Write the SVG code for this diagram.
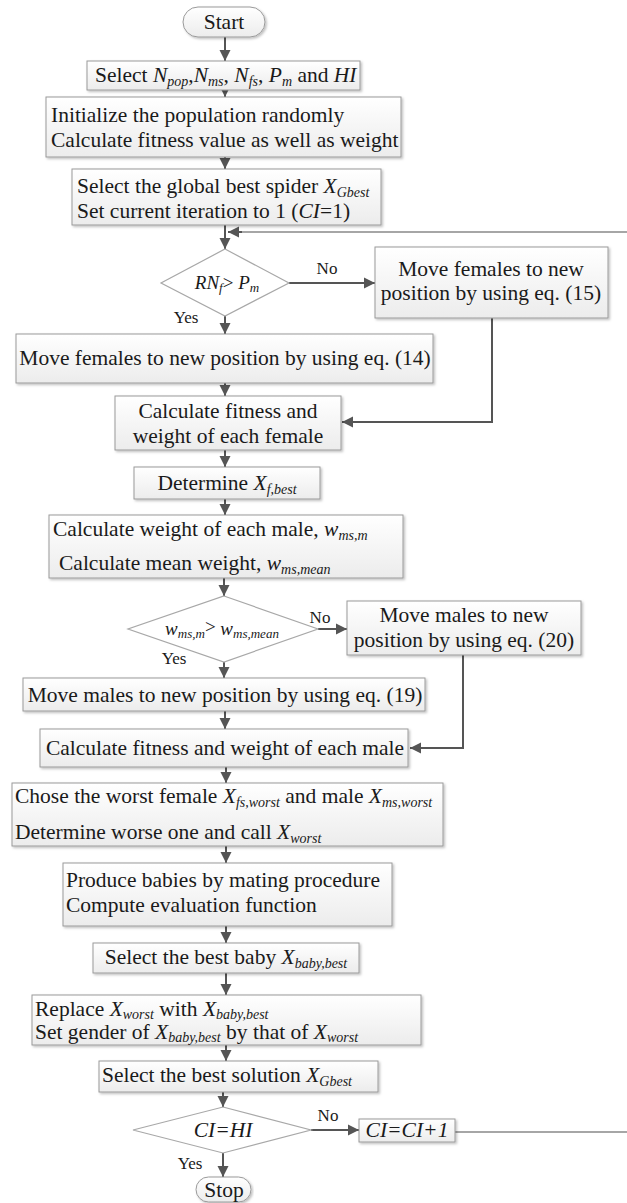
<svg xmlns="http://www.w3.org/2000/svg" width="627" height="1203" viewBox="0 0 627 1203" font-family="'Liberation Serif', 'Times New Roman', 'DejaVu Serif', serif">
<defs>
<linearGradient id="g" x1="0" y1="0" x2="0" y2="1"><stop offset="0" stop-color="#ffffff"/><stop offset="1" stop-color="#ececec"/></linearGradient>
<filter id="sh" x="-5%" y="-10%" width="110%" height="130%"><feDropShadow dx="1.5" dy="1.5" stdDeviation="1" flood-color="#000" flood-opacity="0.25"/></filter>
<marker id="ah" markerUnits="userSpaceOnUse" markerWidth="12" markerHeight="12" refX="11" refY="6" orient="auto"><path d="M0,0.5 L11,6 L0,11.5 z" fill="#555"/></marker>
<style>
.b{fill:url(#g);stroke:#9a9a9a;stroke-width:1;filter:url(#sh)}
.d{fill:#fff;stroke:#a8a8a8;stroke-width:1.2}
text{font-size:21.5px;fill:#1a1a1a}
.c{text-anchor:middle}
.i{font-style:italic}
.s{font-size:14px;font-style:italic}
.dt{font-size:19px}
.ds{font-size:13px;font-style:italic}
.l{font-size:17px}
.cn{fill:none;stroke:#555;stroke-width:2}
.cl{fill:none;stroke:#888;stroke-width:1.3}
</style>
</defs>
<g id="connectors">
<line class="cn" x1="225" y1="37" x2="225" y2="61" marker-end="url(#ah)"/>
<line class="cn" x1="225" y1="90" x2="225" y2="97" marker-end="url(#ah)"/>
<line class="cn" x1="225" y1="157" x2="225" y2="169" marker-end="url(#ah)"/>
<line class="cn" x1="225" y1="225" x2="225" y2="249" marker-end="url(#ah)"/>
<line class="cl" x1="627" y1="232" x2="240" y2="232"/>
<line class="cn" x1="242" y1="232" x2="228" y2="232" marker-end="url(#ah)"/>
<line class="cn" x1="289" y1="283" x2="375" y2="283" marker-end="url(#ah)"/>
<line class="cn" x1="225" y1="316" x2="225" y2="334" marker-end="url(#ah)"/>
<polyline class="cn" points="492,318 492,422 342,422" marker-end="url(#ah)"/>
<line class="cn" x1="225" y1="383" x2="225" y2="396" marker-end="url(#ah)"/>
<line class="cn" x1="225" y1="450" x2="225" y2="467" marker-end="url(#ah)"/>
<line class="cn" x1="225" y1="499" x2="225" y2="515" marker-end="url(#ah)"/>
<line class="cn" x1="224" y1="578" x2="224" y2="596" marker-end="url(#ah)"/>
<line class="cn" x1="318" y1="629" x2="347" y2="629" marker-end="url(#ah)"/>
<line class="cn" x1="224" y1="662" x2="224" y2="678" marker-end="url(#ah)"/>
<polyline class="cn" points="463,655 463,748 410,748" marker-end="url(#ah)"/>
<line class="cn" x1="225" y1="711" x2="225" y2="729" marker-end="url(#ah)"/>
<line class="cn" x1="226" y1="767" x2="226" y2="783" marker-end="url(#ah)"/>
<line class="cn" x1="226" y1="846" x2="226" y2="863" marker-end="url(#ah)"/>
<line class="cn" x1="226" y1="926" x2="226" y2="943" marker-end="url(#ah)"/>
<line class="cn" x1="226" y1="973" x2="226" y2="995" marker-end="url(#ah)"/>
<line class="cn" x1="226" y1="1045" x2="226" y2="1061" marker-end="url(#ah)"/>
<line class="cn" x1="223" y1="1092" x2="223" y2="1107" marker-end="url(#ah)"/>
<line class="cn" x1="311" y1="1130" x2="359" y2="1130" marker-end="url(#ah)"/>
<line class="cl" x1="455" y1="1132" x2="627" y2="1132"/>
<line class="cn" x1="223" y1="1153" x2="223" y2="1177" marker-end="url(#ah)"/>
</g>
<g id="labels">
<text class="l c" x="327" y="274">No</text>
<text class="l c" x="186" y="323">Yes</text>
<text class="l c" x="320" y="623">No</text>
<text class="l c" x="174" y="664">Yes</text>
<text class="l c" x="328" y="1121">No</text>
<text class="l c" x="190" y="1169">Yes</text>
</g>
<g id="start"><rect class="b" x="183" y="7" width="82" height="30" rx="15"/><text class="c" x="224" y="29">Start</text></g>
<g id="select-params"><rect class="b" x="87" y="61" width="273" height="29"/><text x="95" y="82">Select <tspan class="i">N</tspan><tspan class="s" dy="4">pop</tspan><tspan dy="-4">,</tspan><tspan class="i">N</tspan><tspan class="s" dy="4">ms</tspan><tspan dy="-4">, </tspan><tspan class="i">N</tspan><tspan class="s" dy="4">fs</tspan><tspan dy="-4">, </tspan><tspan class="i">P</tspan><tspan class="s" dy="4">m</tspan><tspan dy="-4"> and </tspan><tspan class="i">HI</tspan></text></g>
<g id="init"><rect class="b" x="46" y="97" width="355" height="60"/><text x="51" y="122">Initialize the population randomly</text><text x="51" y="147">Calculate fitness value as well as weight</text></g>
<g id="global-best"><rect class="b" x="72" y="169" width="309" height="56"/><text x="77" y="193">Select the global best spider <tspan class="i">X</tspan><tspan class="s" dy="4">Gbest</tspan></text><text x="77" y="218">Set current iteration to 1 (<tspan class="i">CI</tspan>=1)</text></g>
<g id="dec1"><polygon class="d" points="225,249 289,283 225,316 161,283"/><text class="dt c" x="227" y="289"><tspan class="i">RN</tspan><tspan class="ds" dy="3">f</tspan><tspan dy="-3">&gt; </tspan><tspan class="i">P</tspan><tspan class="ds" dy="3">m</tspan></text></g>
<g id="move-f15"><rect class="b" x="375" y="247" width="233" height="71"/><text class="c" x="491" y="276">Move females to new</text><text class="c" x="491" y="300">position by using eq. (15)</text></g>
<g id="move-f14"><rect class="b" x="16" y="334" width="417" height="49"/><text class="c" x="225" y="365">Move females to new position by using eq. (14)</text></g>
<g id="calc-female"><rect class="b" x="115" y="396" width="226" height="54"/><text class="c" x="228" y="418">Calculate fitness and</text><text class="c" x="228" y="443">weight of each female</text></g>
<g id="determine"><rect class="b" x="134" y="467" width="186" height="32"/><text class="c" x="227" y="490">Determine <tspan class="i">X</tspan><tspan class="s" dy="4">f,best</tspan></text></g>
<g id="calc-weight"><rect class="b" x="49" y="515" width="354" height="63"/><text x="53" y="536">Calculate weight of each male, <tspan class="i">w</tspan><tspan class="s" dy="4">ms,m</tspan></text><text x="59" y="570">Calculate mean weight, <tspan class="i">w</tspan><tspan class="s" dy="4">ms,mean</tspan></text></g>
<g id="dec2"><polygon class="d" points="224,596 318,629 224,662 128,629"/><text class="dt c" x="222" y="635"><tspan class="i">w</tspan><tspan class="ds" dy="3">ms,m</tspan><tspan dy="-5">&gt; </tspan><tspan class="i" dy="2">w</tspan><tspan class="ds" dy="3">ms,mean</tspan></text></g>
<g id="move-m20"><rect class="b" x="347" y="601" width="234" height="54"/><text class="c" x="464" y="622">Move males to new</text><text class="c" x="464" y="647">position by using eq. (20)</text></g>
<g id="move-m19"><rect class="b" x="23" y="678" width="402" height="33"/><text class="c" x="225" y="702">Move males to new position by using eq. (19)</text></g>
<g id="calc-male"><rect class="b" x="40" y="729" width="368" height="38"/><text class="c" x="225" y="755">Calculate fitness and weight of each male</text></g>
<g id="chose"><rect class="b" x="12" y="783" width="431" height="63"/><text x="15" y="803">Chose the worst female <tspan class="i">X</tspan><tspan class="s" dy="4">fs,worst</tspan><tspan dy="-4"> and male </tspan><tspan class="i">X</tspan><tspan class="s" dy="4">ms,worst</tspan></text><text x="15" y="839">Determine worse one and call <tspan class="i">X</tspan><tspan class="s" dy="4">worst</tspan></text></g>
<g id="produce"><rect class="b" x="63" y="863" width="329" height="63"/><text x="66" y="887">Produce babies by mating procedure</text><text x="66" y="912">Compute evaluation function</text></g>
<g id="best-baby"><rect class="b" x="93" y="943" width="266" height="30"/><text class="c" x="226" y="964">Select the best baby <tspan class="i">X</tspan><tspan class="s" dy="4">baby,best</tspan></text></g>
<g id="replace"><rect class="b" x="32" y="995" width="389" height="50"/><text x="35" y="1016">Replace <tspan class="i">X</tspan><tspan class="s" dy="3">worst</tspan><tspan dy="-3"> with </tspan><tspan class="i">X</tspan><tspan class="s" dy="3">baby,best</tspan></text><text x="35" y="1039">Set gender of <tspan class="i">X</tspan><tspan class="s" dy="3">baby,best</tspan><tspan dy="-3"> by that of </tspan><tspan class="i">X</tspan><tspan class="s" dy="3">worst</tspan></text></g>
<g id="best-solution"><rect class="b" x="99" y="1061" width="279" height="31"/><text class="c" x="227" y="1082">Select the best solution <tspan class="i">X</tspan><tspan class="s" dy="4">Gbest</tspan></text></g>
<g id="dec3"><polygon class="d" points="223,1107 311,1130 223,1153 133,1130"/><text class="c i" x="223" y="1137" font-size="21">CI=HI</text></g>
<g id="increment"><rect class="b" x="359" y="1119" width="96" height="23"/><text class="c i" x="407" y="1137" font-size="20.5">CI=CI+1</text></g>
<g id="stop"><rect class="b" x="196" y="1177" width="55" height="25" rx="12.5"/><text class="c" x="224" y="1197">Stop</text></g>
</svg>
